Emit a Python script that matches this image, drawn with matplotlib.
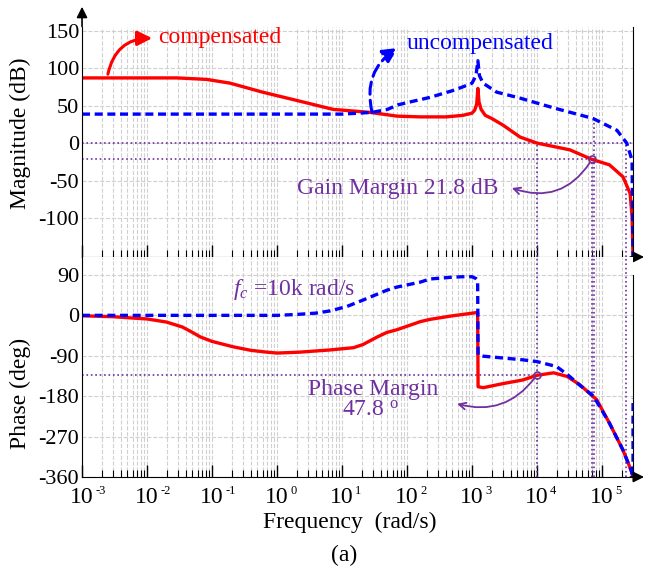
import matplotlib
matplotlib.use('Agg')
import matplotlib.pyplot as plt
from matplotlib.ticker import LogLocator, NullFormatter

plt.rcParams['font.family'] = ['Liberation Serif', 'DejaVu Serif']
plt.rcParams['mathtext.fontset'] = 'custom'
plt.rcParams['mathtext.rm'] = 'Liberation Serif'
plt.rcParams['mathtext.it'] = 'Liberation Serif:italic'
plt.rcParams['axes.unicode_minus'] = False

# magnitude, compensated (red)
w_mag_c = [1e-3, 0.01, 0.029, 0.05, 0.083, 0.19, 0.6, 2.0, 7.3, 27, 70, 160, 400,
           720, 1000, 1100, 1180, 1230, 1280, 1380, 1600, 2000, 3000, 5500, 1e4,
           3.2e4, 7e4, 1.3e5, 2.1e5, 2.7e5, 2.9e5, 3e5]
mag_c = [87, 87, 87, 86, 85, 80, 68, 57, 45, 41, 36, 35, 35,
         37, 40, 44, 52, 73, 55, 45, 37, 33, 24, 8, 0,
         -9, -21.8, -29, -45, -67, -98, -152]

# magnitude, uncompensated (blue)
w_mag_u = [1e-3, 1, 10, 29, 50, 72, 100, 225, 500, 720, 1000, 1150, 1230, 1300,
           1480, 2400, 5500, 1.8e4, 7.2e4, 1.7e5, 2.4e5, 2.9e5, 3e5]
mag_u = [38.7, 38.7, 38.7, 41, 45, 51, 54, 61, 70, 75, 80, 90, 110, 90,
         80, 68, 60, 47, 33, 17, 0, -23, -152]

# phase, compensated (red)
w_ph_c = [1e-3, 3e-3, 6e-3, 0.01, 0.02, 0.035, 0.05, 0.066, 0.1, 0.21, 0.4, 0.7, 1, 2.2,
          6.6, 15, 21, 35, 49, 70, 160, 225, 500, 720, 1150, 1220, 1240, 1500, 3000,
          6000, 1e4, 1.8e4, 2.9e4, 4.6e4, 8.3e4, 1.3e5, 2.1e5, 2.8e5, 3e5]
ph_c = [-1, -3, -6, -8, -15, -26, -38, -48, -58, -70, -78, -82, -84, -82,
        -77, -72, -65, -48, -38, -32, -14, -9, -1, 2, 6, 6, -159, -161, -152,
        -144, -133.5, -128, -136, -155, -188, -240, -300, -345, -360]

# phase, uncompensated (blue)
w_ph_u = [1e-3, 0.1, 1, 2, 4, 6.6, 12, 21, 49, 70, 160, 225, 500, 720, 1000, 1150,
          1220, 1240, 1500, 3000, 6000, 1e4, 2e4, 3e4, 4.5e4, 7.4e4, 1.3e5, 2.1e5,
          2.8e5, 3e5, 3e5]
ph_u = [0, 0, 0, 2, 5, 10, 20, 34, 56, 63, 74, 81, 85, 86, 86, 82,
        78, -88, -91, -95, -99, -103, -114, -133, -155, -180, -240, -300,
        -345, -360, -184]

# x tick decades
decades = [-3, -2, -1, 0, 1, 2, 3, 4, 5]

# margins
w_gc = 1e4          # crossover frequency, compensated
pm_level = -132.2   # phase at crossover
w_pc_c = 7.0e4      # phase crossover, compensated
w_pc_u = 7.4e4      # phase crossover, uncompensated
gm_level = -21.8
w_gc_u = 2.3e5      # 0 dB crossing, uncompensated

purple = '#7030A0'
grid_kw = dict(color='#d0d0d0', ls='--', lw=0.8)
xmin, xmax = 1e-3, 3e5

fig = plt.figure(figsize=(6.51, 5.74), dpi=100)
ax1 = fig.add_axes([0.126, 0.5523, 0.8464, 0.4007])
ax2 = fig.add_axes([0.126, 0.169, 0.8464, 0.3833])

for ax in (ax1, ax2):
    ax.set_xscale('log')
    ax.set_xlim(xmin, xmax)
    ax.xaxis.set_major_locator(LogLocator(base=10, numticks=30))
    ax.xaxis.set_minor_locator(LogLocator(base=10, subs=[2, 3, 4, 5, 6, 7, 8, 9], numticks=300))
    ax.xaxis.set_minor_formatter(NullFormatter())
    ax.grid(True, which='both', axis='x', **grid_kw)
    ax.grid(True, which='major', axis='y', **grid_kw)
    ax.spines['top'].set_visible(False)
    ax.tick_params(axis='x', which='major', direction='in', length=9, width=1, labelbottom=False)
    ax.tick_params(axis='x', which='minor', direction='in', length=5, width=0.8)
    ax.tick_params(axis='y', length=0, labelsize=16, pad=2)
    ax.annotate('', xy=(1.025, 0), xytext=(0.99, 0), xycoords='axes fraction',
                arrowprops=dict(arrowstyle='-|>', color='k', lw=1.2, mutation_scale=16))
    ax.set_axisbelow(True)

# ---- magnitude
ax1.set_ylim(-152, 155)
ax1.set_yticks([150, 100, 50, 0, -50, -100])
ax1.annotate('', xy=(0, 1.1), xytext=(0, 0.99), xycoords='axes fraction',
             arrowprops=dict(arrowstyle='-|>', color='k', lw=1.2, mutation_scale=16))

ax1.hlines(0, xmin, xmax, colors=purple, linestyles=':', lw=1.2)
ax1.hlines(gm_level, xmin, w_pc_c, colors=purple, linestyles=':', lw=1.2)
ax1.vlines(w_gc, -152, 0, colors=purple, linestyles=':', lw=1.2)
ax1.vlines(w_pc_c, -152, gm_level, colors=purple, linestyles=':', lw=1.2)
ax1.vlines(w_pc_u, -152, 33, colors=purple, linestyles=':', lw=1.2)
ax1.vlines(w_gc_u, -152, 0, colors=purple, linestyles=':', lw=1.2)

ax1.plot(w_mag_c, mag_c, color='red', lw=2.4, solid_joinstyle='round')
ax1.plot(w_mag_u, mag_u, color='blue', lw=2.4, dashes=(2.4, 1.4))
ax1.plot([w_pc_c], [gm_level], 'o', ms=5, mfc='none', mec=purple, mew=1.2)

ax1.text(0.0148, 141, 'compensated', color='red', fontsize=17, va='center', ha='left')
ax1.annotate('', xy=(0.012, 140), xytext=(2.5e-3, 92),
             arrowprops=dict(arrowstyle='-|>', color='red', lw=2.2, mutation_scale=22,
                             connectionstyle='arc3,rad=-0.4', shrinkA=0, shrinkB=0))
ax1.text(100, 133, 'uncompensated', color='blue', fontsize=17, va='center', ha='left')
ax1.annotate('', xy=(72, 127), xytext=(29, 41),
             arrowprops=dict(arrowstyle='-|>', color='blue', lw=2.2, ls=(0, (4, 2)),
                             mutation_scale=22, connectionstyle='arc3,rad=-0.35',
                             shrinkA=0, shrinkB=0))
ax1.text(2.04, -60, 'Gain Margin 21.8 dB', color=purple, fontsize=17, va='center', ha='left')
ax1.annotate('', xy=(4100, -60), xytext=(w_pc_c, gm_level),
             arrowprops=dict(arrowstyle='->', color=purple, lw=1.3, mutation_scale=12,
                             connectionstyle='arc3,rad=-0.4', shrinkA=3, shrinkB=0))
ax1.set_ylabel('Magnitude (dB)', fontsize=17)
ax1.yaxis.set_label_coords(-0.093, 0.54)

# ---- phase
ax2.set_ylim(-360, 130)
ax2.set_yticks([90, 0, -90, -180, -270, -360])
ax2.set_yticklabels(['90', '0', '-90', '-180', '-270', '-360'])
ax2.spines['right'].set_bounds(-360, 90)

ax2.hlines(pm_level, xmin, w_gc, colors=purple, linestyles=':', lw=1.2)
for wv in (w_gc, w_pc_c, w_pc_u, w_gc_u):
    ax2.vlines(wv, -360, 130, colors=purple, linestyles=':', lw=1.2)

ax2.plot(w_ph_c, ph_c, color='red', lw=2.4, solid_joinstyle='round')
ax2.plot(w_ph_u, ph_u, color='blue', lw=2.4, dashes=(2.4, 1.4))
ax2.plot([w_gc], [pm_level], 'o', ms=5, mfc='none', mec=purple, mew=1.2)

# decade labels: "10" centred on the tick, small exponent to its right
for k in decades:
    ax2.annotate('10', xy=(10.0 ** k, 0), xycoords=('data', 'axes fraction'),
                 xytext=(0, -7), textcoords='offset points',
                 ha='center', va='top', fontsize=17)
    ax2.annotate(str(k), xy=(10.0 ** k, 0), xycoords=('data', 'axes fraction'),
                 xytext=(9.5, -5.5), textcoords='offset points',
                 ha='left', va='top', fontsize=9)

ax2.text(0.21, 57, r'$f_c$ =10k rad/s', color=purple, fontsize=17, va='center', ha='left')
ax2.text(30, -166, 'Phase Margin', color=purple, fontsize=17, va='center', ha='center')
ax2.text(27, -211, r'47.8 $^{\mathrm{o}}$', color=purple, fontsize=17, va='center', ha='center')
ax2.annotate('', xy=(590, -197), xytext=(w_gc, pm_level),
             arrowprops=dict(arrowstyle='->', color=purple, lw=1.3, mutation_scale=12,
                             connectionstyle='arc3,rad=-0.35', shrinkA=3, shrinkB=0))
ax2.set_ylabel('Phase (deg)', fontsize=17)
ax2.yaxis.set_label_coords(-0.093, 0.38)
ax2.set_xlabel('Frequency  (rad/s)', fontsize=17)
ax2.xaxis.set_label_coords(0.486, -0.158)

fig.text(344 / 651, 1 - 555 / 574, '(a)', fontsize=17, ha='center', va='center')

fig.savefig('out.png', dpi=100)
